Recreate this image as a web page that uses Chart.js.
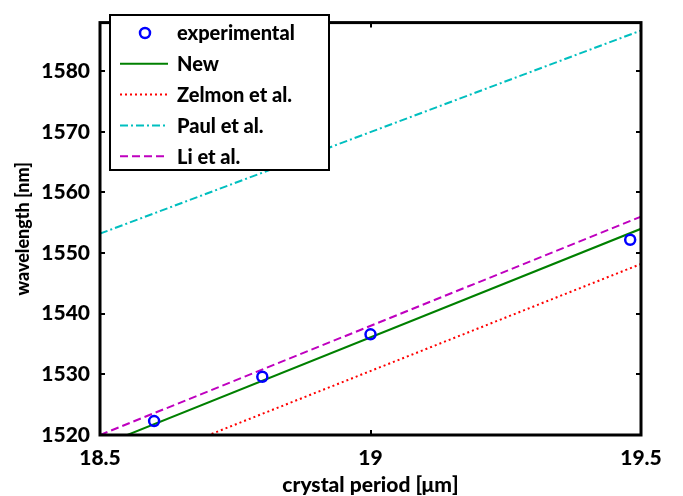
<!DOCTYPE html>
<html>
<head>
<meta charset="utf-8">
<script src="https://cdn.jsdelivr.net/npm/chart.js@4.4.0/dist/chart.umd.min.js"></script>
<style>
  html, body { margin: 0; padding: 0; background: #fff; }
  #wrap { width: 683px; height: 496px; }
</style>
</head>
<body>
<div id="wrap"><canvas id="chart" width="683" height="496"></canvas></div>
<script>
/* ================= DATA ================= */
// model curves, evaluated at the two ends of the period axis
const linePeriods = [18.5, 19.5];
const newModel = [1518.2, 1554.0];
const zelmon = [1512.9, 1548.2];
const paul = [1553.2, 1586.7];
const li = [1520.0, 1556.0];

// measured points
const expPeriods = [18.6, 18.8, 19.0, 19.48];
const expWavelengths = [1522.3, 1529.6, 1536.6, 1552.2];

const xTicks = [18.5, 19, 19.5];
const yTicks = [1520, 1530, 1540, 1550, 1560, 1570, 1580];

const toXY = (xs, ys) => xs.map((x, i) => ({ x: x, y: ys[i] }));

const FONT = "Lato, 'Open Sans', sans-serif";

/* ================= BOX + INWARD TICKS ================= */
const frame = {
  id: "frame",
  afterDraw(chart) {
    const { ctx, chartArea: a, scales } = chart;
    const len = 5;
    ctx.save();
    ctx.strokeStyle = "#000";
    ctx.lineWidth = 2;
    ctx.beginPath();
    yTicks.forEach(v => {
      const y = Math.round(scales.y.getPixelForValue(v));
      ctx.moveTo(a.left, y); ctx.lineTo(a.left + len, y);
      ctx.moveTo(a.right, y); ctx.lineTo(a.right - len, y);
    });
    xTicks.forEach(v => {
      const x = Math.round(scales.x.getPixelForValue(v));
      ctx.moveTo(x, a.bottom); ctx.lineTo(x, a.bottom - len);
      ctx.moveTo(x, a.top); ctx.lineTo(x, a.top + len);
    });
    ctx.stroke();
    ctx.lineWidth = 3;
    ctx.strokeRect(a.left, a.top, a.right - a.left, a.bottom - a.top);
    ctx.restore();
  }
};

/* ================= LEGEND (inside, top-left) ================= */
const boxLegend = {
  id: "boxLegend",
  afterDraw(chart) {
    const { ctx } = chart;
    const bx = 110, by = 15, bw = 219, bh = 155;
    const rowH = 30.8;
    ctx.save();
    ctx.fillStyle = "#fff";
    ctx.fillRect(bx, by, bw, bh);
    ctx.strokeStyle = "#000";
    ctx.lineWidth = 2;
    ctx.strokeRect(bx, by, bw, bh);
    ctx.font = "900 20px " + FONT;
    ctx.textBaseline = "middle";
    chart.data.datasets.forEach((ds, i) => {
      const y = by + 18 + i * rowH;
      if (ds.showLine === false) {
        ctx.setLineDash([]);
        ctx.strokeStyle = ds.borderColor;
        ctx.lineWidth = ds.borderWidth;
        ctx.beginPath();
        ctx.arc(145, y, ds.pointRadius, 0, Math.PI * 2);
        ctx.stroke();
      } else {
        ctx.setLineDash(ds.borderDash || []);
        ctx.strokeStyle = ds.borderColor;
        ctx.lineWidth = ds.borderWidth;
        ctx.beginPath();
        ctx.moveTo(120, y);
        ctx.lineTo(168, y);
        ctx.stroke();
      }
      ctx.setLineDash([]);
      ctx.fillStyle = "#000";
      ctx.fillText(ds.label, 177, y + 1);
    });
    ctx.restore();
  }
};

/* ================= CHART ================= */
const lineDs = (label, ys, color, dash) => ({
  type: "line",
  label: label,
  data: toXY(linePeriods, ys),
  borderColor: color,
  borderWidth: 2,
  borderDash: dash,
  pointRadius: 0,
  fill: false
});

new Chart(document.getElementById("chart").getContext("2d"), {
  type: "scatter",
  data: {
    datasets: [
      {
        label: "experimental",
        data: toXY(expPeriods, expWavelengths),
        showLine: false,
        borderColor: "#0000ff",
        backgroundColor: "rgba(0,0,0,0)",
        borderWidth: 2.5,
        pointRadius: 5,
        order: 0
      },
      lineDs("New", newModel, "#008000", []),
      lineDs("Zelmon et al.", zelmon, "#ff0000", [2, 3]),
      lineDs("Paul et al.", paul, "#00bfbf", [8, 3, 2, 3]),
      lineDs("Li et al.", li, "#bf00bf", [8, 4])
    ]
  },
  options: {
    responsive: false,
    animation: false,
    layout: { padding: { top: 6, right: 42, left: 0, bottom: 0 } },
    plugins: {
      legend: { display: false },
      tooltip: { enabled: false }
    },
    scales: {
      x: {
        type: "linear",
        min: 18.5,
        max: 19.5,
        afterBuildTicks: s => { s.ticks = xTicks.map(v => ({ value: v })); },
        afterFit: s => { s.height = 61; },
        grid: { display: false, drawTicks: false },
        border: { display: false },
        ticks: {
          padding: 11,
          color: "#000",
          font: { family: FONT, size: 21, weight: "900" },
          callback: v => String(v)
        },
        title: {
          display: true,
          text: "crystal period [\u03bcm]",
          color: "#000",
          font: { family: FONT, size: 21, weight: "900", lineHeight: 1 },
          padding: { top: 0, bottom: 0 }
        }
      },
      y: {
        type: "linear",
        min: 1520,
        max: 1588,
        afterBuildTicks: s => { s.ticks = yTicks.map(v => ({ value: v })); },
        afterFit: s => { s.width = 100; },
        grid: { display: false, drawTicks: false },
        border: { display: false },
        ticks: {
          padding: 10,
          color: "#000",
          font: { family: FONT, size: 21, weight: "900" },
          callback: v => String(v)
        },
        title: {
          display: true,
          text: "wavelength [nm]",
          color: "#000",
          font: { family: FONT, size: 18, weight: "900" },
          padding: { top: 12, bottom: 0 }
        }
      }
    }
  },
  plugins: [frame, boxLegend]
});
</script>
</body>
</html>
